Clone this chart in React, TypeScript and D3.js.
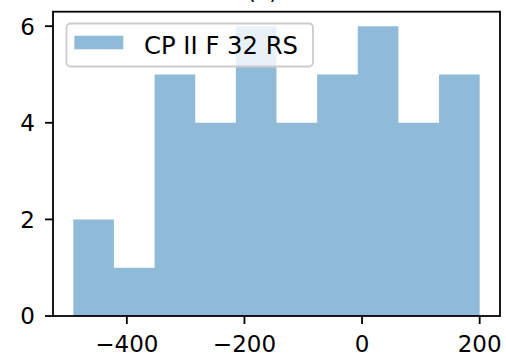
import React, { useEffect, useRef } from 'react';
import * as d3 from 'd3';

// histogram bins (edges) and counts
const binStart = -491;
const binEnd = 200;
const counts = [2, 1, 5, 4, 6, 4, 5, 6, 4, 5];
const xTicks = [-400, -200, 0, 200];
const yTicks = [0, 2, 4, 6];
const seriesName = 'CP II F 32 RS';
const title = '(a)';

const W = 506;
const H = 363;
const margin = { left: 53, right: 6, top: 11.7, bottom: 47 };

const App = () => {
  const ref = useRef<SVGSVGElement>(null);

  useEffect(() => {
    const svg = d3.select(ref.current);
    svg.selectAll('*').remove();

    const font = 'DejaVu Sans, sans-serif';
    const x0 = margin.left;
    const x1 = W - margin.right;
    const y0 = H - margin.bottom;
    const y1 = margin.top;

    const span = binEnd - binStart;
    const x = d3
      .scaleLinear()
      .domain([binStart - span * 0.05, binEnd + span * 0.05])
      .range([x0, x1]);
    const y = d3.scaleLinear().domain([0, d3.max(counts)! * 1.05]).range([y0, y1]);

    const step = span / counts.length;
    const bins = counts.map((c, i) => ({ lo: binStart + i * step, hi: binStart + (i + 1) * step, c }));

    // bars as one outline so neighbours don't show seams
    const area = d3
      .area<{ v: number; c: number }>()
      .curve(d3.curveStepAfter)
      .x((d) => x(d.v))
      .y0(y(0))
      .y1((d) => y(d.c));
    const pts = bins.map((b) => ({ v: b.lo, c: b.c }));
    pts.push({ v: binEnd, c: counts[counts.length - 1] });
    svg
      .append('path')
      .attr('d', area(pts))
      .attr('fill', '#1f77b4')
      .attr('fill-opacity', 0.5);

    // frame
    svg
      .append('rect')
      .attr('x', x0)
      .attr('y', y1)
      .attr('width', x1 - x0)
      .attr('height', y0 - y1)
      .attr('fill', 'none')
      .attr('stroke', '#000')
      .attr('stroke-width', 1.8);

    // x ticks
    const xt = svg.append('g');
    xTicks.forEach((t) => {
      xt.append('line')
        .attr('x1', x(t))
        .attr('x2', x(t))
        .attr('y1', y0)
        .attr('y2', y0 + 8)
        .attr('stroke', '#000')
        .attr('stroke-width', 1.8);
      xt.append('text')
        .attr('x', x(t))
        .attr('y', y0 + 36)
        .attr('text-anchor', 'middle')
        .attr('font-family', font)
        .attr('font-size', 23)
        .attr('fill', '#000')
        .text(t < 0 ? '\u2212' + Math.abs(t) : String(t));
    });

    // y ticks
    const yt = svg.append('g');
    yTicks.forEach((t) => {
      yt.append('line')
        .attr('x1', x0 - 8)
        .attr('x2', x0)
        .attr('y1', y(t))
        .attr('y2', y(t))
        .attr('stroke', '#000')
        .attr('stroke-width', 1.8);
      yt.append('text')
        .attr('x', x0 - 18)
        .attr('y', y(t) + 8.4)
        .attr('text-anchor', 'end')
        .attr('font-family', font)
        .attr('font-size', 23)
        .attr('fill', '#000')
        .text(String(t));
    });

    // legend
    const lg = svg.append('g');
    lg.append('rect')
      .attr('x', 66.5)
      .attr('y', 23.5)
      .attr('width', 246.5)
      .attr('height', 43)
      .attr('rx', 4)
      .attr('fill', '#fff')
      .attr('fill-opacity', 0.8)
      .attr('stroke', '#cccccc')
      .attr('stroke-width', 1.8);
    lg.append('rect')
      .attr('x', 74.3)
      .attr('y', 35.7)
      .attr('width', 49)
      .attr('height', 13.6)
      .attr('fill', '#1f77b4')
      .attr('fill-opacity', 0.5);
    lg.append('text')
      .attr('x', 144)
      .attr('y', 54)
      .attr('font-family', font)
      .attr('font-size', 24.3)
      .attr('fill', '#000')
      .text(seriesName);

    // title, mostly cropped by the top edge
    svg
      .append('text')
      .attr('x', 262.5)
      .attr('y', -1)
      .attr('text-anchor', 'middle')
      .attr('font-family', font)
      .attr('font-size', 22)
      .attr('fill', '#000')
      .text(title);
  }, []);

  return (
    <svg
      ref={ref}
      width={W}
      height={H}
      style={{ position: 'absolute', left: 0, top: 0, background: '#fff' }}
    />
  );
};

export default App;
